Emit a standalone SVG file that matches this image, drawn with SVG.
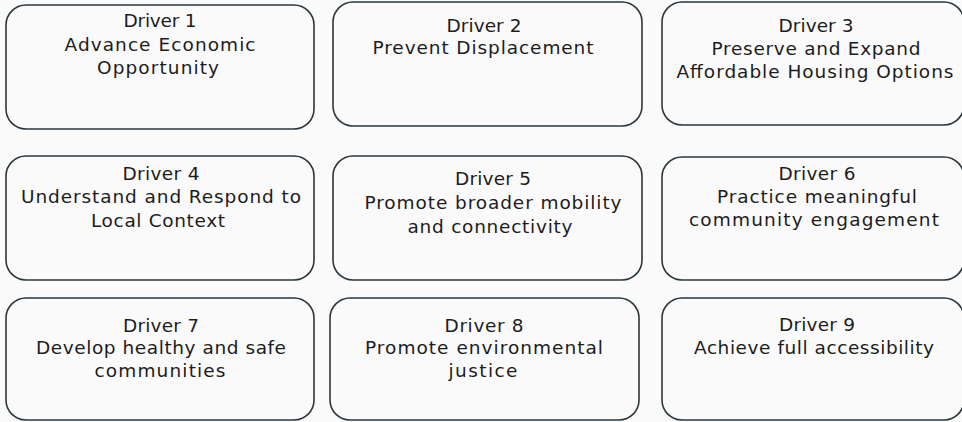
<svg xmlns="http://www.w3.org/2000/svg" width="962" height="422" viewBox="0 0 962 422">
<style>
.box{fill:#fafafa;stroke:#2b373c;stroke-width:1.6}
.t{font-family:"DejaVu Sans","Liberation Sans",sans-serif;font-size:18.5px;fill:#1c1c1c;text-anchor:middle}
</style>
<rect x="0" y="0" width="962" height="422" fill="#fafafa"/>
<g id="connectors"/>
<g id="driver1">
<rect class="box" x="6" y="5" width="308" height="124" rx="20"/>
<text class="t" x="160" y="27" textLength="73" lengthAdjust="spacing">Driver 1</text>
<text class="t" x="160" y="51" textLength="191" lengthAdjust="spacing">Advance Economic</text>
<text class="t" x="158" y="74" textLength="122" lengthAdjust="spacing">Opportunity</text>
</g>
<g id="driver2">
<rect class="box" x="333" y="2" width="309" height="124" rx="20"/>
<text class="t" x="484" y="32" textLength="75" lengthAdjust="spacing">Driver 2</text>
<text class="t" x="483" y="54" textLength="221" lengthAdjust="spacing">Prevent Displacement</text>
</g>
<g id="driver3">
<rect class="box" x="662" y="2" width="302" height="123" rx="20"/>
<text class="t" x="816" y="32" textLength="75" lengthAdjust="spacing">Driver 3</text>
<text class="t" x="816" y="55" textLength="209" lengthAdjust="spacing">Preserve and Expand</text>
<text class="t" x="815" y="78" textLength="277" lengthAdjust="spacing">Affordable Housing Options</text>
</g>
<g id="driver4">
<rect class="box" x="6" y="156" width="308" height="124" rx="20"/>
<text class="t" x="161" y="180" textLength="77" lengthAdjust="spacing">Driver 4</text>
<text class="t" x="161" y="203" textLength="280" lengthAdjust="spacing">Understand and Respond to</text>
<text class="t" x="158" y="227" textLength="134" lengthAdjust="spacing">Local Context</text>
</g>
<g id="driver5">
<rect class="box" x="333" y="156" width="309" height="124" rx="20"/>
<text class="t" x="493" y="185" textLength="76" lengthAdjust="spacing">Driver 5</text>
<text class="t" x="493" y="209" textLength="257" lengthAdjust="spacing">Promote broader mobility</text>
<text class="t" x="490" y="233" textLength="165" lengthAdjust="spacing">and connectivity</text>
</g>
<g id="driver6">
<rect class="box" x="662" y="157" width="302" height="123" rx="20"/>
<text class="t" x="817" y="180" textLength="77" lengthAdjust="spacing">Driver 6</text>
<text class="t" x="817" y="203" textLength="200" lengthAdjust="spacing">Practice meaningful</text>
<text class="t" x="814" y="226" textLength="250" lengthAdjust="spacing">community engagement</text>
</g>
<g id="driver7">
<rect class="box" x="6" y="298" width="308" height="122" rx="20"/>
<text class="t" x="161" y="332" textLength="76" lengthAdjust="spacing">Driver 7</text>
<text class="t" x="161" y="354" textLength="250" lengthAdjust="spacing">Develop healthy and safe</text>
<text class="t" x="160" y="377" textLength="131" lengthAdjust="spacing">communities</text>
</g>
<g id="driver8">
<rect class="box" x="330" y="298" width="309" height="122" rx="20"/>
<text class="t" x="484" y="332" textLength="79" lengthAdjust="spacing">Driver 8</text>
<text class="t" x="484" y="354" textLength="238" lengthAdjust="spacing">Promote environmental</text>
<text class="t" x="483" y="377" textLength="69" lengthAdjust="spacing">justice</text>
</g>
<g id="driver9">
<rect class="box" x="662" y="298" width="302" height="122" rx="20"/>
<text class="t" x="817" y="331" textLength="76" lengthAdjust="spacing">Driver 9</text>
<text class="t" x="814" y="354" textLength="240" lengthAdjust="spacing">Achieve full accessibility</text>
</g>
</svg>
